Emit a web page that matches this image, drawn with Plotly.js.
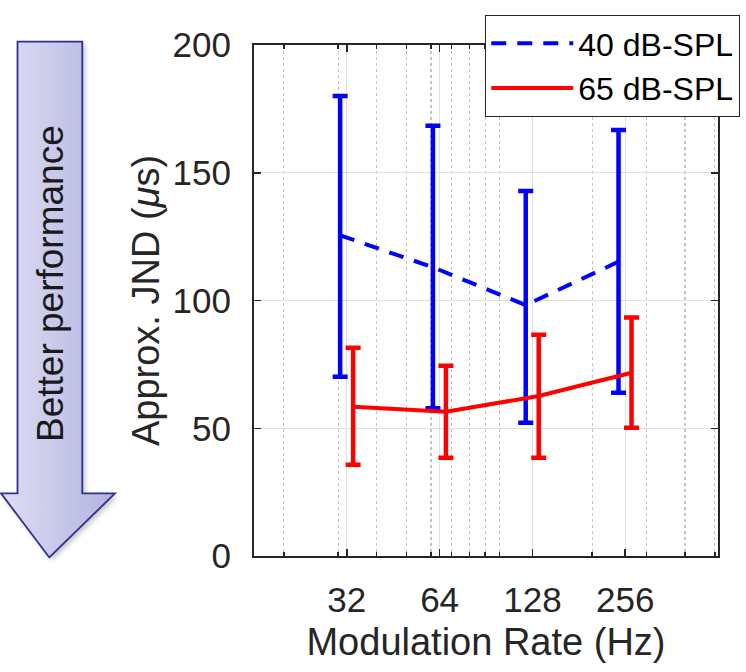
<!DOCTYPE html>
<html>
<head>
<meta charset="utf-8">
<script src="https://cdn.plot.ly/plotly-3.0.1.min.js"></script>
<style>html,body{margin:0;padding:0;background:#fff;}#chart{width:746px;height:672px;}</style>
</head>
<body>
<div id="chart"></div>
<script>
// Data
const rates = [32, 64, 128, 256];
const tickLabels = ['32', '64', '128', '256'];
const minorGrid = [20, 30, 40, 50, 60, 70, 80, 90, 100, 200, 300, 400, 500];
const yTicks = [0, 50, 100, 150, 200];

const mean40 = [125.5, 113.0, 98.2, 115.2];
const upper40 = [180.0, 168.4, 142.9, 166.7];
const lower40 = [70.2, 57.8, 52.2, 63.9];

const mean65 = [58.4, 56.5, 62.6, 71.7];
const upper65 = [81.5, 74.5, 86.6, 93.3];
const lower65 = [35.7, 38.5, 38.5, 50.2];

const names = ['40 dB-SPL', '65 dB-SPL'];

// horizontal dodge (multiplicative on log axis)
const dodge40 = Math.pow(2, -0.072);
const dodge65 = Math.pow(2, 0.068);

const txt = '#262626';
const FONT = 'Liberation Sans, Arial, Helvetica, sans-serif';

const trace40 = {
  x: rates.map(r => r * dodge40),
  y: mean40,
  name: names[0],
  mode: 'lines',
  line: {color: '#0000ff', width: 4, dash: '15px,11px'},
  error_y: {
    type: 'data', symmetric: false,
    array: upper40.map((u, i) => u - mean40[i]),
    arrayminus: mean40.map((m, i) => m - lower40[i]),
    color: '#0000ff', thickness: 4.5, width: 7.5
  }
};
const trace65 = {
  x: rates.map(r => r * dodge65),
  y: mean65,
  name: names[1],
  mode: 'lines',
  line: {color: '#ff0000', width: 4},
  error_y: {
    type: 'data', symmetric: false,
    array: upper65.map((u, i) => u - mean65[i]),
    arrayminus: mean65.map((m, i) => m - lower65[i]),
    color: '#ff0000', thickness: 4.5, width: 7.5
  }
};

// decorative "better performance" arrow (gradient) as an inline SVG image
const arrowSvg =
  '<svg xmlns="http://www.w3.org/2000/svg" width="124" height="530" viewBox="0 0 124 530">' +
  '<defs><linearGradient id="g" x1="0" y1="0" x2="1" y2="0">' +
  '<stop offset="0" stop-color="#dedef4"/><stop offset="1" stop-color="#b2b2e0"/></linearGradient>' +
  '<filter id="s" x="-20%" y="-20%" width="140%" height="140%"><feGaussianBlur stdDeviation="2.5"/></filter></defs>' +
  '<path d="M20.5 6.7 L85.3 6.7 L85.3 458.3 L118 458.3 L52.3 522.5 L4 458.3 L20.5 458.3 Z" fill="#000" opacity="0.22" filter="url(#s)"/>' +
  '<path d="M17.5 3.7 L82.3 3.7 L82.3 455.3 L115 455.3 L49.3 519.5 L1 455.3 L17.5 455.3 Z" fill="url(#g)" stroke="#2e3192" stroke-width="1.8" stroke-linejoin="miter"/>' +
  '</svg>';
const arrowSrc = 'data:image/svg+xml;charset=utf-8,' + encodeURIComponent(arrowSvg);

const layout = {
  width: 746, height: 672,
  margin: {l: 254, r: 28, t: 45, b: 116, autoexpand: false},
  paper_bgcolor: '#ffffff', plot_bgcolor: '#ffffff',
  font: {family: FONT, color: txt, size: 35},
  showlegend: true,
  xaxis: {
    type: 'log',
    range: [Math.log10(16), Math.log10(512)],
    tickmode: 'array', tickvals: rates, ticktext: tickLabels,
    ticks: 'inside', ticklen: 7, tickwidth: 1.5, tickcolor: txt,
    showgrid: true, gridcolor: '#e0e0e0', gridwidth: 1.2,
    minor: {tickmode: 'array', tickvals: minorGrid, showgrid: true, gridcolor: '#c4c4c4', griddash: 'dot', gridwidth: 1.2, ticks: 'inside', ticklen: 4, tickcolor: txt, tickwidth: 1.5},
    showline: true, linecolor: txt, linewidth: 2, mirror: 'allticks',
    zeroline: false,
    tickfont: {size: 35, color: txt, family: FONT},
    ticklabelstandoff: 12,
    title: {text: 'Modulation Rate (Hz)', font: {size: 38, color: txt, family: FONT}, standoff: 10},
    automargin: false
  },
  yaxis: {
    range: [0, 200],
    tickmode: 'array', tickvals: yTicks,
    ticks: 'inside', ticklen: 7, tickwidth: 1.5, tickcolor: txt,
    showgrid: true, gridcolor: '#e0e0e0', gridwidth: 1.2,
    showline: true, linecolor: txt, linewidth: 2, mirror: 'allticks',
    zeroline: false,
    tickfont: {size: 35, color: txt, family: FONT},
    ticklabelstandoff: 14,
    title: {text: 'Approx. JND (<i>μ</i>s)', font: {size: 38, color: txt, family: FONT}, standoff: 1},
    automargin: false
  },
  legend: {
    x: 0.498, y: 1.059, xanchor: 'left', yanchor: 'top',
    bgcolor: '#ffffff', bordercolor: '#262626', borderwidth: 1.2,
    font: {size: 32, color: '#000000', family: FONT},
    itemwidth: 82, tracegroupgap: 0
  },
  images: [{
    source: arrowSrc, xref: 'paper', yref: 'paper',
    x: -0.5474, y: (556 - 38) / 511, sizex: 124 / 464, sizey: 530 / 511,
    xanchor: 'left', yanchor: 'top', sizing: 'stretch', layer: 'above'
  }],
  annotations: [{
    text: 'Better performance', xref: 'paper', yref: 'paper',
    x: -0.44, y: 0.534, xanchor: 'center', yanchor: 'middle',
    textangle: -90, showarrow: false,
    font: {size: 37, color: '#1a1a1a', family: FONT}
  }]
};

Plotly.newPlot('chart', [trace40, trace65], layout, {displayModeBar: false, staticPlot: true});
</script>
</body>
</html>
